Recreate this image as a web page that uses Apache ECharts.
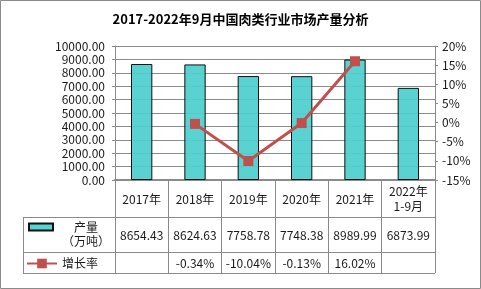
<!DOCTYPE html>
<html>
<head>
<meta charset="utf-8">
<script src="https://cdn.jsdelivr.net/npm/echarts@6/dist/echarts.min.js"></script>
<style>
html,body{margin:0;padding:0;background:#fff;}
#c{width:481px;height:289px;}
</style>
</head>
<body>
<div id="c"></div>
<script>
// ---- data ----
const categories = ['2017年', '2018年', '2019年', '2020年', '2021年', '2022年\n1-9月'];
const production = [8654.43, 8624.63, 7758.78, 7748.38, 8989.99, 6873.99];
const growth = [null, -0.34, -10.04, -0.13, 16.02, null];
const leftAxis = { min: 0, max: 10000, interval: 1000 };
const rightAxis = { min: -15, max: 20, interval: 5 };
const seriesNames = ['产量', '增长率'];

// ---- layout ----
const FONT = '"Noto Sans CJK SC", "Noto Sans", sans-serif';
const TXT = '#1a1a1a';
const GRAY = '#8a8a8a';
const GL = 115, GR = 435, GT = 46, GB = 180;
const ROW1 = 217, ROW2 = 252, ROW3 = 273, LEG_L = 23;

const chart = echarts.init(document.getElementById('c'), null, { renderer: 'canvas' });

function tableLine(x1, y1, x2, y2) {
  return { type: 'line', silent: true, z: 10,
    shape: { x1, y1, x2, y2 }, style: { stroke: GRAY, lineWidth: 1 } };
}

const option = {
  animation: false,
  backgroundColor: '#fff',
  textStyle: { fontFamily: FONT },
  title: {
    text: '2017-2022年9月中国肉类行业市场产量分析',
    left: 'center', top: 8,
    textStyle: { fontFamily: FONT, fontSize: 13, fontWeight: 'bold', color: '#000' }
  },
  grid: { left: GL, right: 481 - GR, top: GT, bottom: 289 - GB },
  legend: [
    {
      data: [{ name: seriesNames[0], icon: 'rect' }], left: 28, top: 205.5, orient: 'vertical', padding: 0,
      selectedMode: false, itemWidth: 24, itemHeight: 7,
      formatter: () => '{c|产量}\n{c|（万吨）}',
      textStyle: {
        fontFamily: FONT, fontSize: 12, color: TXT, lineHeight: 14, padding: [15, 0, 0, 4],
        rich: { c: { width: 48, align: 'center', fontSize: 12, lineHeight: 14, color: TXT, fontFamily: FONT } }
      }
    },
    {
      data: [seriesNames[1]], left: 26, top: 257.5, orient: 'vertical', padding: 0,
      selectedMode: false, itemWidth: 30, itemHeight: 12,
      textStyle: { fontFamily: FONT, fontSize: 12, color: TXT }
    }
  ],
  xAxis: [
    {
      type: 'category', data: categories, position: 'bottom',
      axisLine: { show: true, lineStyle: { color: GRAY, width: 2 } },
      axisTick: { show: true, length: ROW3 - GB, lineStyle: { color: GRAY, width: 1 } },
      axisLabel: { interval: 0, margin: (ROW1 - GB) / 2 + 0.5, verticalAlign: 'middle',
        fontSize: 12, lineHeight: 15, color: TXT, fontFamily: FONT }
    },
    {
      type: 'category', data: categories, position: 'bottom', gridIndex: 0,
      axisLine: { show: false }, axisTick: { show: false },
      axisLabel: { interval: 0, margin: (ROW1 + ROW2) / 2 - GB + 1, verticalAlign: 'middle',
        fontSize: 12, color: TXT, fontFamily: FONT,
        formatter: (v, i) => production[i].toFixed(2) }
    },
    {
      type: 'category', data: categories, position: 'bottom', gridIndex: 0,
      axisLine: { show: false }, axisTick: { show: false },
      axisLabel: { interval: 0, margin: (ROW2 + ROW3) / 2 - GB + 1, verticalAlign: 'middle',
        fontSize: 12, color: TXT, fontFamily: FONT,
        formatter: (v, i) => growth[i] == null ? '' : growth[i].toFixed(2) + '%' }
    }
  ],
  yAxis: [
    {
      type: 'value', min: leftAxis.min, max: leftAxis.max, interval: leftAxis.interval,
      axisLine: { show: true, lineStyle: { color: GRAY } },
      axisTick: { show: true, length: 3, lineStyle: { color: GRAY } },
      splitLine: { show: true, lineStyle: { color: GRAY, width: 1 } },
      axisLabel: { margin: 10, fontSize: 12, color: TXT, fontFamily: FONT,
        formatter: v => v.toFixed(2) }
    },
    {
      type: 'value', min: rightAxis.min, max: rightAxis.max, interval: rightAxis.interval,
      axisLine: { show: true, lineStyle: { color: GRAY } },
      axisTick: { show: true, length: 3, lineStyle: { color: GRAY } },
      splitLine: { show: false },
      axisLabel: { margin: 7, fontSize: 12, color: TXT, fontFamily: FONT,
        formatter: v => v + '%' }
    }
  ],
  series: [
    {
      name: seriesNames[0], type: 'bar', data: production, barWidth: '40%',
      xAxisIndex: 0, yAxisIndex: 0,
      itemStyle: { color: '#4ECFCF', borderColor: '#000', borderWidth: 1, opacity: 0.93 }
    },
    {
      name: seriesNames[1], type: 'line', data: growth, xAxisIndex: 0, yAxisIndex: 1,
      symbol: 'rect', symbolSize: 10, z: 5,
      lineStyle: { color: '#C0504D', width: 3 },
      itemStyle: { color: '#C0504D' }
    }
  ],
  graphic: [
    { type: 'rect', silent: true, z: 10, shape: { x: 0.5, y: 0.5, width: 480, height: 288 },
      style: { fill: null, stroke: GRAY, lineWidth: 1 } },
    tableLine(LEG_L, ROW1 + 0.5, GR, ROW1 + 0.5),
    tableLine(LEG_L, ROW2 + 0.5, GR, ROW2 + 0.5),
    tableLine(LEG_L, ROW3 + 0.5, GR, ROW3 + 0.5),
    tableLine(LEG_L + 0.5, ROW1, LEG_L + 0.5, ROW3 + 1)
  ]
};
chart.setOption(option);
</script>
</body>
</html>
